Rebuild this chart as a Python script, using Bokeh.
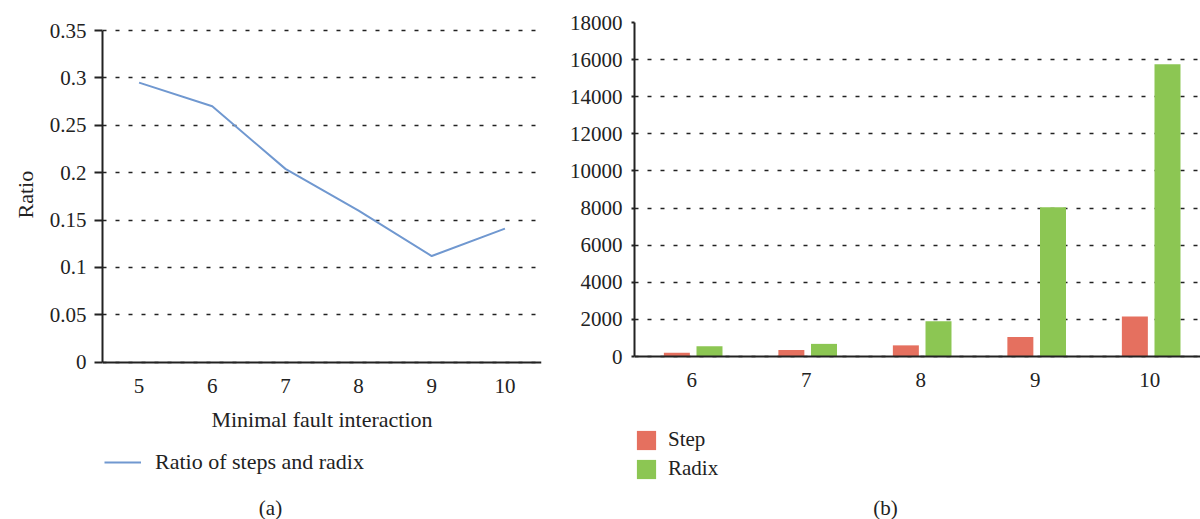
from bokeh.plotting import figure
from bokeh.layouts import row
from bokeh.models import (Range1d, FixedTicker, Legend, LegendItem, Label, Title,
                          ColumnDataSource, CustomJSTickFormatter)
from bokeh.embed import file_html
from bokeh.resources import INLINE

# ---- data ----
fault_levels = [5, 6, 7, 8, 9, 10]
ratio_values = [0.295, 0.27, 0.204, 0.16, 0.112, 0.141]

bar_levels = [6, 7, 8, 9, 10]
step_values = [200, 350, 600, 1050, 2150]
radix_values = [550, 680, 1900, 8050, 15750]

ratio_ticks = [0, 0.05, 0.1, 0.15, 0.2, 0.25, 0.3, 0.35]
count_ticks = list(range(0, 18001, 2000))

FONT = "Liberation Serif"
TXT = "#222222"
LINE_COLOR = "#7098d0"
STEP_COLOR = "#e5705f"
RADIX_COLOR = "#8cc653"
GRID_COLOR = "#222222"
TICK_FS = "21px"
LABEL_FS = "22px"

HEIGHT = 519
FRAME_TOP = 22          # frame spans FRAME_TOP .. HEIGHT (both panels)


def style(p):
    p.outline_line_color = None
    p.xgrid.grid_line_color = None
    p.ygrid.grid_line_color = GRID_COLOR
    p.ygrid.grid_line_dash = "4 9"
    p.ygrid.grid_line_width = 1.5
    for ax in (p.xaxis[0], p.yaxis[0]):
        ax.axis_line_color = TXT
        ax.axis_line_width = 2
        ax.major_label_text_font = FONT
        ax.major_label_text_font_size = TICK_FS
        ax.major_label_text_color = TXT
        ax.axis_label_text_font = FONT
        ax.axis_label_text_font_size = LABEL_FS
        ax.axis_label_text_font_style = "normal"
        ax.axis_label_text_color = TXT
        ax.minor_tick_line_color = None
    p.xaxis.major_tick_line_color = None
    p.xaxis.fixed_location = 0
    p.yaxis.major_tick_line_color = TXT
    p.yaxis.major_tick_line_width = 2
    p.yaxis.major_tick_in = 0


def y_limits(top_val, top_px, zero_px):
    per_px = top_val / (zero_px - top_px)
    return (-(HEIGHT - zero_px) * per_px, top_val + (top_px - FRAME_TOP) * per_px)


# ---- left panel (a) ----
a_lo, a_hi = y_limits(0.35, 30, 361.7)
pa = figure(width=565, height=HEIGHT, output_backend="svg", toolbar_location=None,
            x_range=Range1d(4.5, 10.5), y_range=Range1d(a_lo, a_hi),
            min_border_left=102, min_border_right=24, min_border_top=FRAME_TOP,
            min_border_bottom=0)
style(pa)
pa.xaxis.ticker = FixedTicker(ticks=fault_levels)
pa.yaxis.ticker = FixedTicker(ticks=ratio_ticks)
pa.yaxis.bounds = (0, 0.35)
pa.yaxis.formatter = CustomJSTickFormatter(code="return String(+tick.toFixed(2));")
pa.yaxis.major_tick_out = 8
pa.yaxis.major_label_standoff = 8
pa.xaxis.major_label_standoff = 11
pa.xaxis.axis_label = "Minimal fault interaction"
pa.xaxis.axis_label_standoff = 10
pa.add_layout(Title(text="Ratio", align="left", offset=301, standoff=18,
                    text_font=FONT, text_font_size=LABEL_FS, text_color=TXT,
                    text_font_style="normal"), "left")

src_a = ColumnDataSource(dict(x=fault_levels, y=ratio_values))
ln = pa.line("x", "y", source=src_a, line_color=LINE_COLOR, line_width=2)

leg_a = Legend(items=[LegendItem(label="Ratio of steps and radix", renderers=[ln])],
               location=(2, 44), orientation="vertical",
               label_text_font=FONT, label_text_font_size=LABEL_FS,
               label_text_color=TXT, glyph_width=37, glyph_height=24,
               label_standoff=14, padding=0, margin=0,
               border_line_color=None, background_fill_alpha=0)
pa.add_layout(leg_a, "center")
pa.add_layout(Label(x=168, y=12, x_units="screen", y_units="screen", text="(a)",
                    text_font=FONT, text_font_size=TICK_FS, text_color=TXT,
                    text_align="center", text_baseline="middle"))

# ---- right panel (b) ----
b_lo, b_hi = y_limits(18000, 22, 356)
x_end = 5.5 + (1200 - 634) / 114.5
pb = figure(width=635, height=HEIGHT, output_backend="svg", toolbar_location=None,
            x_range=Range1d(5.5, x_end), y_range=Range1d(b_lo, b_hi),
            min_border_left=69, min_border_right=0, min_border_top=FRAME_TOP,
            min_border_bottom=0)
style(pb)
pb.xaxis.ticker = FixedTicker(ticks=bar_levels)
pb.yaxis.ticker = FixedTicker(ticks=count_ticks)
pb.yaxis.bounds = (0, 18000)
pb.yaxis.major_tick_out = 3
pb.yaxis.major_label_standoff = 9
pb.xaxis.major_label_standoff = 10

src_b = ColumnDataSource(dict(
    xs=[v - 0.13 for v in bar_levels], xr=[v + 0.155 for v in bar_levels],
    step=step_values, radix=radix_values))
bs = pb.vbar(x="xs", top="step", width=0.227, source=src_b,
             fill_color=STEP_COLOR, line_color=None)
br = pb.vbar(x="xr", top="radix", width=0.227, source=src_b,
             fill_color=RADIX_COLOR, line_color=None)

leg_b = Legend(items=[LegendItem(label="Step", renderers=[bs]),
                      LegendItem(label="Radix", renderers=[br])],
               location=(0, 38), orientation="vertical",
               label_text_font=FONT, label_text_font_size=TICK_FS,
               label_text_color=TXT, glyph_width=24, glyph_height=24,
               label_standoff=10, spacing=4, padding=0, margin=0,
               border_line_color=None, background_fill_alpha=0)
pb.add_layout(leg_b, "center")
pb.add_layout(Label(x=251, y=12, x_units="screen", y_units="screen", text="(b)",
                    text_font=FONT, text_font_size=TICK_FS, text_color=TXT,
                    text_align="center", text_baseline="middle"))

layout = row(pa, pb, spacing=0)
open("out.html", "w").write(file_html(layout, INLINE))
